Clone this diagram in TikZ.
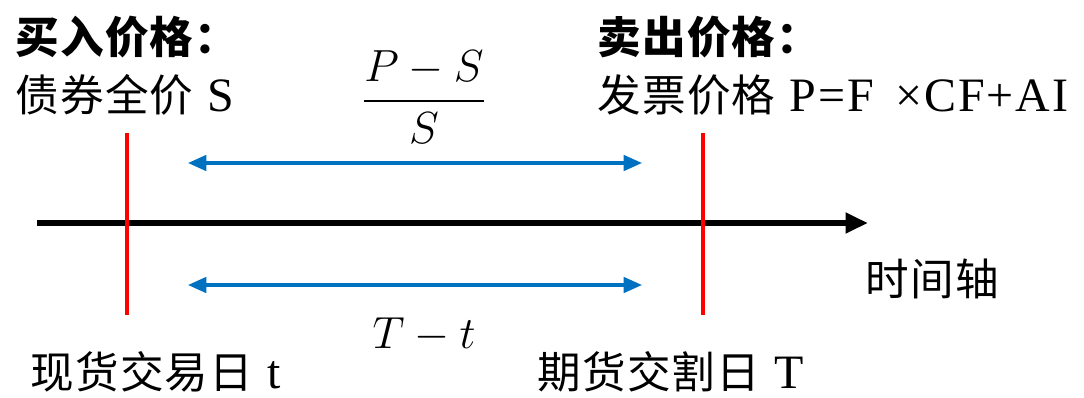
\RequirePackage{fix-cm}
\documentclass[tikz,border=0pt]{standalone}
\usepackage{fontspec}
\usepackage{amsmath}
\setmainfont[LetterSpace=4,Scale=1.1]{Liberation Serif}
\newfontfamily\cjk[LetterSpace=3]{Noto Sans CJK SC}
\usetikzlibrary{arrows.meta}
\definecolor{spanblue}{RGB}{0,112,192}
\definecolor{dayred}{RGB}{255,0,0}
\tikzset{
  lbl/.style={anchor=west, inner sep=0pt, font=\fontsize{31}{37}\selectfont},
  mathlbl/.style={inner sep=0pt, font=\fontsize{32}{38}\selectfont},
  daybar/.style={draw=dayred, line width=3pt},
  span/.style={draw=spanblue, line width=2.2pt, {Triangle[length=13pt,width=11pt]}-{Triangle[length=13pt,width=11pt]}},
}
\begin{document}
\begin{tikzpicture}[x=0.025cm,y=-0.025cm]
\useasboundingbox (0,0) rectangle (1084,397);
% time axis
\coordinate (axisstart) at (37,223);
\coordinate (axisend) at (868,223);
\draw[line width=4.5pt,-{Triangle[length=16pt,width=14pt]}] (axisstart) -- (axisend);
\node[lbl] (axislbl) at (865,279) {{\cjk 时间轴}};

% trade day and delivery day
\coordinate (tradetop) at (127,133);
\coordinate (tradebot) at (127,315);
\coordinate (delivtop) at (703,133);
\coordinate (delivbot) at (703,315);
\draw[daybar] (tradetop) -- (tradebot);
\draw[daybar] (delivtop) -- (delivbot);

% buy and sell prices
\node[lbl] (buyhead) at (15,37) {{\cjk\bfseries 买入价格：}};
\node[lbl] (buyprice) at (15,95) {{\cjk 债券全价} S};
\node[lbl] (sellhead) at (597,37) {{\cjk\bfseries 卖出价格：}};
\node[lbl] (sellprice) at (597,95) {{\cjk 发票价格} P=F\hspace{0.45em}×CF+AI};

% return and holding period
\coordinate (retleft) at (188,163);
\coordinate (retright) at (642,163);
\draw[span] (retleft) -- (retright);
\node[mathlbl] (ret) at (424,97) {$\dfrac{P-S}{S}$};
\coordinate (holdleft) at (188,285);
\coordinate (holdright) at (642,285);
\draw[span] (holdleft) -- (holdright);
\node[mathlbl] (hold) at (424,335) {$T-t$};

% day labels
\node[lbl] (tradelbl) at (30,372) {{\cjk 现货交易日}\ t};
\node[lbl] (delivlbl) at (537,372) {{\cjk 期货交割日}\ T};
\end{tikzpicture}
\end{document}
